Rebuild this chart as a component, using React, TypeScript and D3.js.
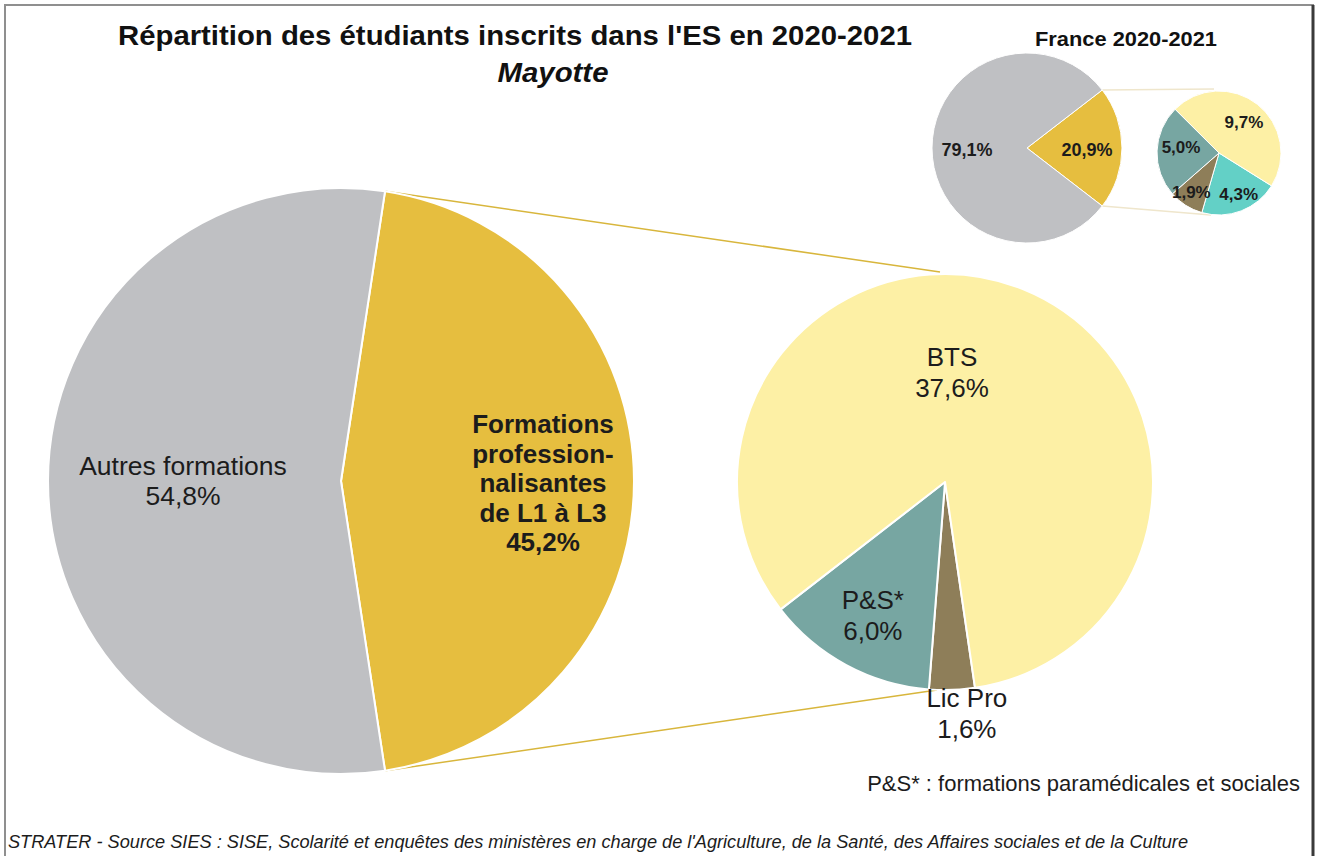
import React, { useRef, useEffect } from 'react';
import * as d3 from 'd3';

// categories
const mainCategories = ['Formations professionnalisantes de L1 à L3', 'Autres formations'];
const subCategories = ['Autres formations pro', 'Lic Pro', 'P&S*', 'BTS'];

// Mayotte 2020-2021 (%)
const mayotteMain = [45.2, 54.8];
const mayotteSub = [0, 1.6, 6.0, 37.6];

// France 2020-2021 (%)
const franceMain = [20.9, 79.1];
const franceSub = [4.3, 1.9, 5.0, 9.7];

// label texts
const mainLabels = [
  ['Formations', 'profession-', 'nalisantes', 'de L1 à L3', '45,2%'],
  ['Autres formations', '54,8%'],
];
const subLabels = [[], ['Lic Pro', '1,6%'], ['P&S*', '6,0%'], ['BTS', '37,6%']];

const mainColors = ['#e6be3f', '#bfc0c3'];
const subColors = ['#63d0c6', '#8e7e59', '#77a6a2', '#fdf0a5'];

const fmt = (v: number) => d3.format('.1f')(v).replace('.', ',') + '%';

export default function App() {
  const svgRef = useRef<SVGSVGElement>(null);

  useEffect(() => {
    const width = 1318;
    const height = 856;
    const svg = d3.select(svgRef.current);
    svg.selectAll('*').remove();

    svg.append('rect').attr('width', width).attr('height', height).attr('fill', '#fff');

    // cadre
    svg.append('path')
      .attr('d', `M5,${height + 2} L5,5 L1313,5 L1313,${height + 2}`)
      .attr('fill', 'none')
      .attr('stroke', '#8f8f8f')
      .attr('stroke-width', 2);
    svg.append('line')
      .attr('x1', 1313).attr('x2', 1313).attr('y1', 5).attr('y2', height)
      .attr('stroke', '#3a3a3a').attr('stroke-width', 3);

    const font = 'Liberation Sans, Arial, sans-serif';

    // pie of pie builder
    function pieOfPie(opts: {
      main: number[]; sub: number[];
      c1: [number, number]; r1: number;
      c2: [number, number]; r2: number;
      subStart: number;
      strokeW: number;
      connector: string;
    }) {
      const { main, sub, c1, r1, c2, r2, subStart, strokeW, connector } = opts;
      const total = d3.sum(main);
      const frac = main[0] / total;
      const start = Math.PI / 2 - Math.PI * frac;
      const pieMain = d3.pie<number>().sort(null).value(d => d)
        .startAngle(start).endAngle(start + 2 * Math.PI);
      const pieSub = d3.pie<number>().sort(null).value(d => d)
        .startAngle(subStart).endAngle(subStart + 2 * Math.PI);
      const arcMain = d3.arc<d3.PieArcDatum<number>>().innerRadius(0).outerRadius(r1);
      const arcSub = d3.arc<d3.PieArcDatum<number>>().innerRadius(0).outerRadius(r2);
      const mainArcs = pieMain(main);
      const subArcs = pieSub(sub);

      // lignes de liaison
      const a0 = mainArcs[0];
      const p1: [number, number] = [c1[0] + r1 * Math.sin(a0.startAngle), c1[1] - r1 * Math.cos(a0.startAngle)];
      const p2: [number, number] = [c1[0] + r1 * Math.sin(a0.endAngle), c1[1] - r1 * Math.cos(a0.endAngle)];
      const g = svg.append('g');
      g.append('line').attr('x1', p1[0]).attr('y1', p1[1]).attr('x2', c2[0] - 5).attr('y2', c2[1] - r2 - 2)
        .attr('stroke', connector).attr('stroke-width', 1.5);
      g.append('line').attr('x1', p2[0]).attr('y1', p2[1]).attr('x2', c2[0] - 8).attr('y2', c2[1] + r2)
        .attr('stroke', connector).attr('stroke-width', 1.5);

      g.append('g').attr('transform', `translate(${c1[0]},${c1[1]})`)
        .selectAll('path').data(mainArcs).enter().append('path')
        .attr('d', arcMain)
        .attr('fill', (_d, i) => mainColors[i])
        .attr('stroke', '#fff').attr('stroke-width', strokeW).attr('stroke-linejoin', 'round');

      g.append('g').attr('transform', `translate(${c2[0]},${c2[1]})`)
        .selectAll('path').data(subArcs.filter(d => d.value > 0)).enter().append('path')
        .attr('d', arcSub)
        .attr('fill', d => subColors[d.index])
        .attr('stroke', '#fff').attr('stroke-width', strokeW).attr('stroke-linejoin', 'round');

      return { mainArcs, subArcs };
    }

    // ---- Mayotte ----
    const c1: [number, number] = [341, 481];
    const r1 = 293;
    const c2: [number, number] = [945, 482];
    const r2 = 208;
    const may = pieOfPie({
      main: mayotteMain, sub: mayotteSub, c1, r1, c2, r2,
      subStart: (171.7 * Math.PI) / 180, strokeW: 2, connector: '#d8b63c',
    });

    const writeLines = (x: number, y: number, lines: string[], size: number, bold: boolean, lh: number) => {
      const t = svg.append('text')
        .attr('x', x).attr('y', y - ((lines.length - 1) * lh) / 2)
        .attr('text-anchor', 'middle')
        .attr('dominant-baseline', 'central')
        .attr('font-family', font)
        .attr('font-size', size)
        .attr('font-weight', bold ? 'bold' : 'normal')
        .attr('fill', '#1c1c1c');
      lines.forEach((l, i) => {
        t.append('tspan').attr('x', x).attr('dy', i === 0 ? 0 : lh).text(l);
      });
    };

    const polar = (c: [number, number], r: number, a: number): [number, number] =>
      [c[0] + r * Math.sin(a), c[1] - r * Math.cos(a)];
    const mid = (d: d3.PieArcDatum<number>) => (d.startAngle + d.endAngle) / 2;

    // main labels
    {
      const pY = polar(c1, 202, mid(may.mainArcs[0]));
      writeLines(pY[0], pY[1] + 2, mainLabels[0], 26, true, 29.5);
      const pG = polar(c1, 158, mid(may.mainArcs[1]));
      writeLines(pG[0], pG[1], mainLabels[1], 26.5, false, 30);
    }
    // sub labels
    {
      const radii = [0, 233, 152, 115];
      may.subArcs.forEach((d, i) => {
        if (d.value <= 0) return;
        let p = polar(c2, radii[i], mid(d));
        if (i === 3) p = [p[0] - 36, p[1] - 3];
        if (i === 1) p = [p[0] + 14, p[1] - 1];
        writeLines(p[0], p[1], subLabels[i], 26, false, 31);
      });
    }

    // ---- France ----
    const f1: [number, number] = [1027, 148];
    const fr1 = 95;
    const f2: [number, number] = [1219, 153];
    const fr2 = 62;
    const fr = pieOfPie({
      main: franceMain, sub: franceSub, c1: f1, r1: fr1, c2: f2, r2: fr2,
      subStart: (122 * Math.PI) / 180, strokeW: 1, connector: '#efe6cc',
    });
    fr.mainArcs.forEach(d => {
      const p = polar(f1, 60, mid(d));
      writeLines(p[0], p[1] + 2, [fmt(d.value)], 18, true, 18);
    });
    const subR = [44, 46, 38, 40];
    const subDx = [4, -3, 0, 0];
    fr.subArcs.forEach((d, i) => {
      let p = polar(f2, subR[i], mid(d));
      if (i === 2) p = [p[0], p[1] - 5];
      writeLines(p[0] + subDx[i], p[1], [fmt(d.value)], 17, true, 18);
    });

    // titres
    svg.append('text')
      .attr('x', 515).attr('y', 45)
      .attr('text-anchor', 'middle')
      .attr('font-family', font).attr('font-size', 28).attr('font-weight', 'bold')
      .attr('textLength', 794).attr('lengthAdjust', 'spacingAndGlyphs')
      .attr('fill', '#111')
      .text("Répartition des étudiants inscrits dans l'ES en 2020-2021");
    svg.append('text')
      .attr('x', 553).attr('y', 82)
      .attr('text-anchor', 'middle')
      .attr('font-family', font).attr('font-size', 28).attr('font-weight', 'bold')
      .attr('font-style', 'italic')
      .attr('textLength', 111).attr('lengthAdjust', 'spacingAndGlyphs')
      .attr('fill', '#111')
      .text('Mayotte');
    svg.append('text')
      .attr('x', 1126).attr('y', 46)
      .attr('text-anchor', 'middle')
      .attr('font-family', font).attr('font-size', 21).attr('font-weight', 'bold')
      .attr('textLength', 182).attr('lengthAdjust', 'spacingAndGlyphs')
      .attr('fill', '#111')
      .text('France 2020-2021');

    // note
    svg.append('text')
      .attr('x', 1300).attr('y', 791)
      .attr('text-anchor', 'end')
      .attr('font-family', font).attr('font-size', 22)
      .attr('fill', '#1c1c1c')
      .text('P&S* : formations paramédicales et sociales');

    // source
    svg.append('text')
      .attr('x', 8).attr('y', 848)
      .attr('font-family', font).attr('font-size', 18).attr('font-style', 'italic')
      .attr('textLength', 1180).attr('lengthAdjust', 'spacingAndGlyphs')
      .attr('fill', '#1c1c1c')
      .text("STRATER - Source SIES : SISE, Scolarité et enquêtes des ministères en charge de l'Agriculture, de la Santé, des Affaires sociales et de la Culture");
  }, []);

  return (
    <div style={{ position: 'fixed', left: 0, top: 0, width: 1318, height: 856 }}>
      <svg ref={svgRef} width={1318} height={856} viewBox="0 0 1318 856" style={{ display: 'block' }} />
    </div>
  );
}
